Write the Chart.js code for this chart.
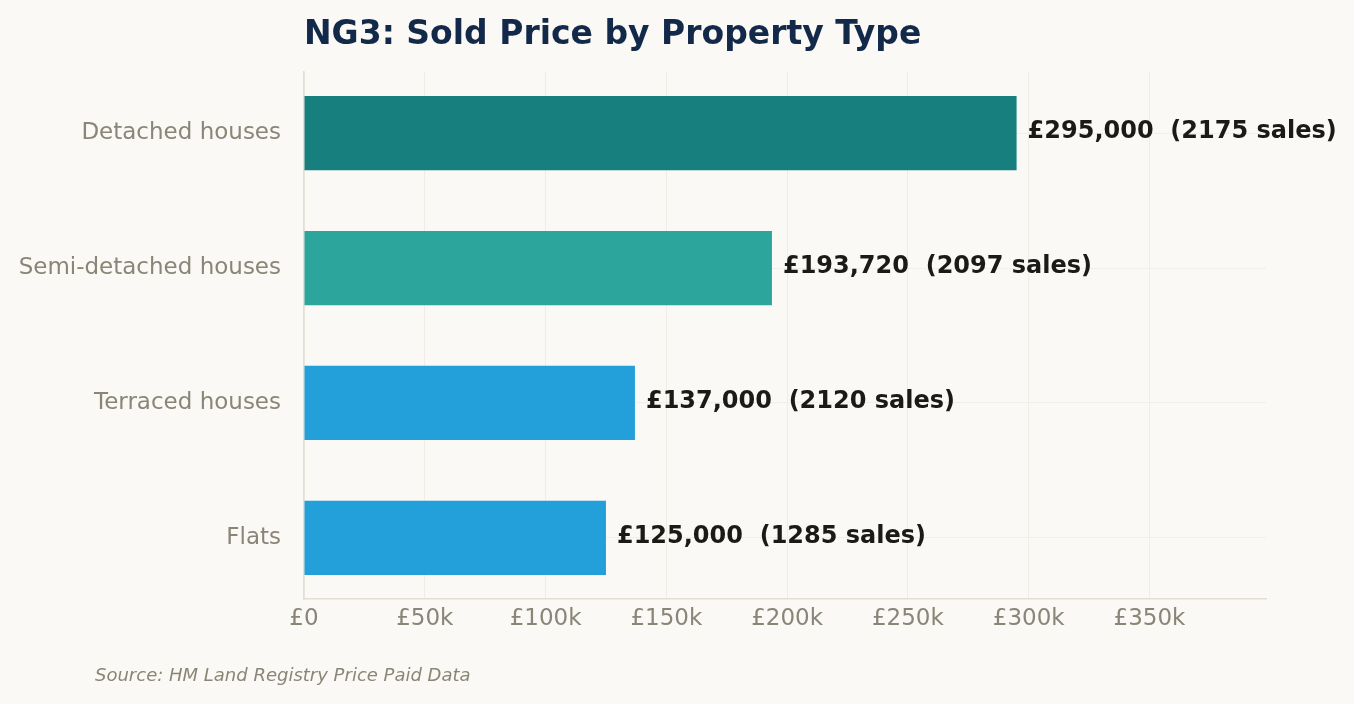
<!DOCTYPE html>
<html>
<head>
<meta charset="utf-8">
<script src="https://cdn.jsdelivr.net/npm/chart.js@4"></script>
<style>
    html, body {
        margin: 0;
        padding: 0;
        background: #faf9f5;
    }
    #wrap {
        position: relative;
        width: 1354px;
        height: 704px;
    }
    #title {
        position: absolute;
        left: 304px;
        top: 16px;
        font: bold 33px "DejaVu Sans";
        line-height: 33px;
        color: #12294a;
        white-space: nowrap;
    }
    #source {
        position: absolute;
        left: 95px;
        top: 666px;
        font: italic 18px "DejaVu Sans";
        line-height: 18px;
        color: #8a8577;
        white-space: nowrap;
    }
</style>
</head>
<body>
<div id="wrap">
    <canvas id="priceChart"></canvas>
    <div id="title">NG3: Sold Price by Property Type</div>
    <div id="source">Source: HM Land Registry Price Paid Data</div>
</div>
<script>
// =============================
// Data
// =============================
const propertyTypes = ["Detached houses", "Semi-detached houses", "Terraced houses", "Flats"];
const soldPrices = [295000, 193720, 137000, 125000];
const salesCounts = [2175, 2097, 2120, 1285];
const barColors = ["#17807e", "#2ca59c", "#239fd9", "#239fd9"];
const priceTicks = [0, 50000, 100000, 150000, 200000, 250000, 300000, 350000];

const priceMax = 398250;

// labels at the end of each bar
const valueLabels = {
    id: "valueLabels",
    afterDatasetsDraw(chart) {
        const ctx = chart.ctx;
        const meta = chart.getDatasetMeta(0);
        ctx.save();
        ctx.font = "bold 24px 'DejaVu Sans'";
        ctx.fillStyle = "#1c1a17";
        ctx.textAlign = "left";
        ctx.textBaseline = "middle";
        meta.data.forEach((bar, i) => {
            const txt = "£" + soldPrices[i].toLocaleString("en-GB") + "  (" + salesCounts[i] + " sales)";
            ctx.fillText(txt, bar.x + 11, bar.y - 1);
        });
        ctx.restore();
    }
};

const ctxPrice = document.getElementById("priceChart");

new Chart(ctxPrice, {
    type: "bar",
    data: {
        datasets: [{
            data: soldPrices.map((p, i) => ({ x: p, y: i })),
            backgroundColor: barColors,
            borderWidth: 0,
            barPercentage: 0.55,
            categoryPercentage: 1
        }]
    },
    options: {
        indexAxis: "y",
        responsive: true,
        maintainAspectRatio: false,
        animation: false,
        layout: {
            padding: { top: 72, right: 88, bottom: 65, left: 0 }
        },
        plugins: {
            legend: { display: false },
            tooltip: { enabled: false }
        },
        scales: {
            x: {
                type: "linear",
                min: 0,
                max: priceMax,
                afterBuildTicks: (scale) => {
                    scale.ticks = priceTicks.map(v => ({ value: v }));
                },
                afterFit: (scale) => {
                    scale.height = 40;
                },
                grid: {
                    color: "#efede6",
                    lineWidth: 1,
                    drawTicks: false
                },
                border: {
                    color: "#e3ded1",
                    width: 1.5
                },
                ticks: {
                    padding: 6,
                    color: "#8a8577",
                    font: { family: "DejaVu Sans", size: 23 },
                    maxRotation: 0,
                    callback: (v) => v === 0 ? "£0" : "£" + (v / 1000) + "k"
                }
            },
            y: {
                type: "linear",
                min: -0.4525,
                max: 3.4525,
                reverse: true,
                offset: false,
                afterBuildTicks: (scale) => {
                    scale.ticks = propertyTypes.map((t, i) => ({ value: i }));
                },
                afterFit: (scale) => {
                    scale.width = 304;
                },
                grid: {
                    offset: false,
                    color: "#f1efe9",
                    lineWidth: 1,
                    drawTicks: false
                },
                border: {
                    color: "#e3ded1",
                    width: 1.5
                },
                ticks: {
                    padding: 23,
                    color: "#8a8577",
                    font: { family: "DejaVu Sans", size: 23 },
                    callback: (v) => propertyTypes[v]
                }
            }
        }
    },
    plugins: [valueLabels]
});
</script>
</body>
</html>
